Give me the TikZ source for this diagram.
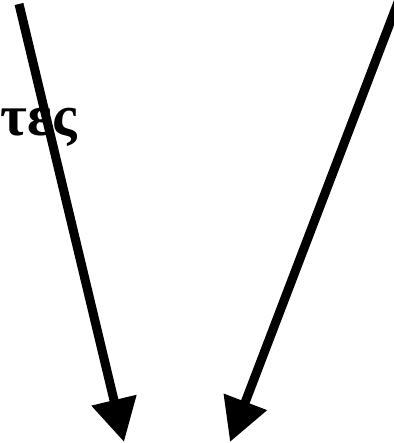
\documentclass[tikz,border=0pt]{standalone}
\usepackage{fontspec}
\setmainfont{Liberation Serif}
\usetikzlibrary{positioning,arrows.meta}

\begin{document}
\begin{tikzpicture}[x=1bp,y=-1bp,
  flow/.style={line width=9bp,-{Triangle[length=43bp,width=44bp]}},
  word/.style={inner sep=0pt}]
\useasboundingbox (0,0) rectangle (393,443);

\node[word,anchor=base east] (w) at (77,136) {\fontsize{58bp}{64bp}\selectfont\bfseries τες};

\coordinate (l0) at (19,4);
\coordinate (r0) at (400,-3);
\coordinate (l1) at (124,442);
\coordinate (r1) at (230,442);

\draw[flow] (l0) -- (l1);
\draw[flow] (r0) -- (r1);
\end{tikzpicture}
\end{document}
